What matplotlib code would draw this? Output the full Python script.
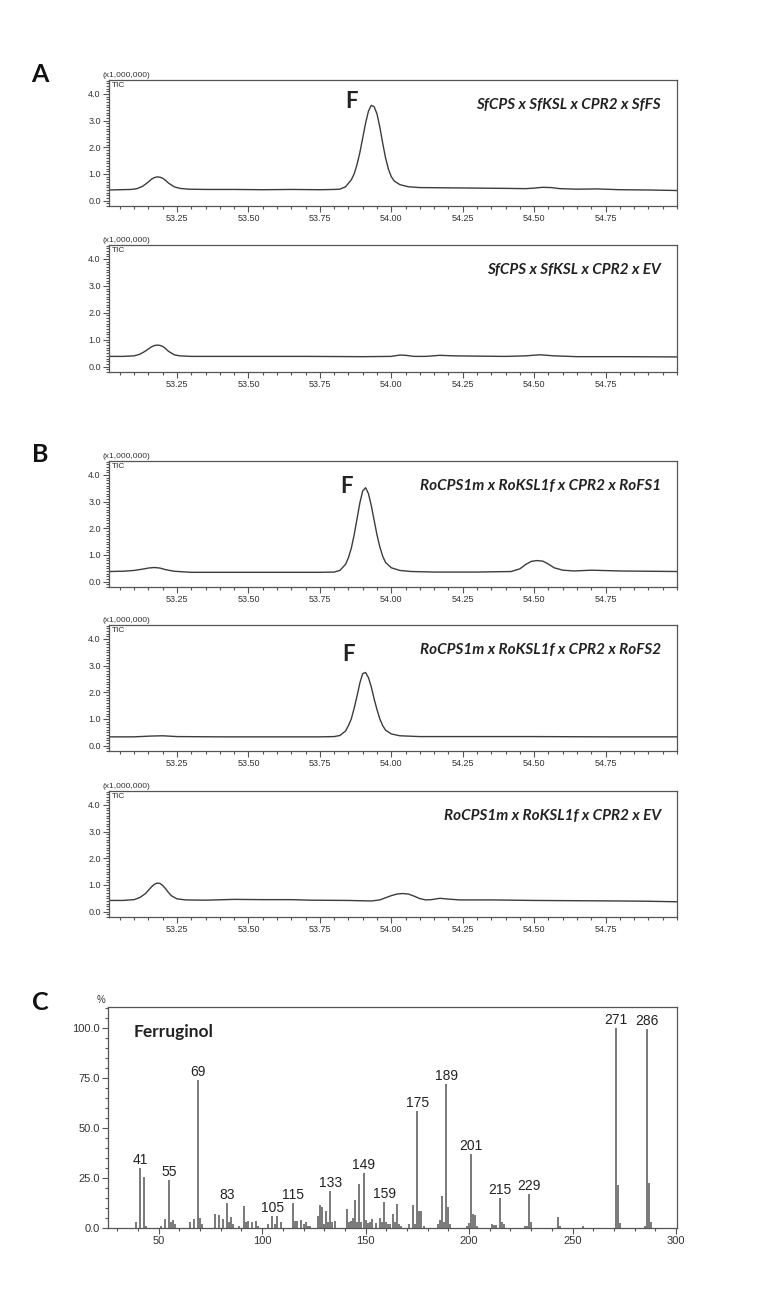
import matplotlib
matplotlib.use("Agg")
import matplotlib.pyplot as plt
from matplotlib.ticker import MultipleLocator

# ---------------- data ----------------
construct_labels = [
    "SfCPS x SfKSL x CPR2 x SfFS",
    "SfCPS x SfKSL x CPR2 x EV",
    "RoCPS1m x RoKSL1f x CPR2 x RoFS1",
    "RoCPS1m x RoKSL1f x CPR2 x RoFS2",
    "RoCPS1m x RoKSL1f x CPR2 x EV",
]

a1_time = [53.01, 53.05, 53.09, 53.11, 53.13, 53.15, 53.16, 53.17, 53.18, 53.19, 53.20, 53.21,
           53.22, 53.24, 53.26, 53.29, 53.35, 53.45, 53.55, 53.65, 53.75, 53.80, 53.82, 53.84,
           53.86, 53.87, 53.88, 53.89, 53.90, 53.91, 53.92, 53.93, 53.94, 53.95, 53.96, 53.97,
           53.98, 53.99, 54.00, 54.01, 54.03, 54.06, 54.10, 54.20, 54.30, 54.40, 54.47, 54.50,
           54.53, 54.56, 54.59, 54.65, 54.72, 54.80, 54.90, 55.00]
a1_tic = [0.40, 0.41, 0.42, 0.45, 0.54, 0.70, 0.80, 0.86, 0.89, 0.88, 0.84, 0.76,
          0.66, 0.52, 0.46, 0.43, 0.42, 0.42, 0.41, 0.42, 0.41, 0.42, 0.43, 0.52,
          0.78, 1.00, 1.35, 1.80, 2.35, 2.90, 3.35, 3.57, 3.52, 3.25, 2.75, 2.15,
          1.60, 1.18, 0.90, 0.74, 0.60, 0.52, 0.49, 0.48, 0.47, 0.46, 0.45, 0.47,
          0.50, 0.49, 0.45, 0.43, 0.44, 0.41, 0.40, 0.38]

a2_time = [53.01, 53.06, 53.10, 53.12, 53.14, 53.15, 53.16, 53.17, 53.18, 53.19, 53.20,
           53.21, 53.22, 53.24, 53.26, 53.30, 53.50, 53.70, 53.90, 54.00, 54.03, 54.05,
           54.08, 54.12, 54.17, 54.22, 54.30, 54.40, 54.47, 54.52, 54.57, 54.65, 54.80,
           55.00]
a2_tic = [0.38, 0.38, 0.40, 0.46, 0.58, 0.66, 0.73, 0.78, 0.80, 0.79, 0.75,
          0.67, 0.57, 0.44, 0.40, 0.38, 0.38, 0.38, 0.37, 0.38, 0.43, 0.42,
          0.38, 0.38, 0.42, 0.40, 0.39, 0.38, 0.40, 0.44, 0.40, 0.37, 0.37,
          0.36]

b1_time = [53.01, 53.06, 53.10, 53.13, 53.15, 53.17, 53.19, 53.21, 53.24, 53.30, 53.45,
           53.60, 53.75, 53.80, 53.82, 53.84, 53.85, 53.86, 53.87, 53.88, 53.89, 53.90,
           53.91, 53.92, 53.93, 53.94, 53.95, 53.96, 53.97, 53.98, 54.00, 54.03, 54.07,
           54.15, 54.30, 54.42, 54.45, 54.47, 54.49, 54.51, 54.53, 54.55, 54.57, 54.60,
           54.64, 54.70, 54.80, 54.90, 55.00]
b1_tic = [0.38, 0.39, 0.42, 0.47, 0.51, 0.53, 0.51, 0.45, 0.39, 0.35, 0.35,
          0.35, 0.35, 0.36, 0.42, 0.65, 0.90, 1.25, 1.75, 2.35, 2.95, 3.40,
          3.52, 3.30, 2.85, 2.30, 1.75, 1.30, 0.95, 0.72, 0.52, 0.42, 0.38,
          0.36, 0.36, 0.38, 0.48, 0.64, 0.76, 0.79, 0.77, 0.66, 0.52, 0.43,
          0.40, 0.43, 0.40, 0.39, 0.38]

b2_time = [53.01, 53.10, 53.16, 53.20, 53.25, 53.40, 53.60, 53.75, 53.80, 53.82, 53.84,
           53.85, 53.86, 53.87, 53.88, 53.89, 53.90, 53.91, 53.92, 53.93, 53.94, 53.95,
           53.96, 53.97, 53.98, 54.00, 54.03, 54.10, 54.30, 54.50, 54.75, 55.00]
b2_tic = [0.33, 0.33, 0.36, 0.37, 0.34, 0.33, 0.33, 0.33, 0.34, 0.38, 0.55,
          0.75, 1.00, 1.40, 1.85, 2.35, 2.70, 2.74, 2.55, 2.20, 1.75, 1.35,
          1.00, 0.75, 0.58, 0.44, 0.37, 0.34, 0.34, 0.34, 0.33, 0.33]

b3_time = [53.01, 53.06, 53.10, 53.12, 53.14, 53.15, 53.16, 53.17, 53.18, 53.19, 53.20,
           53.21, 53.22, 53.23, 53.25, 53.28, 53.35, 53.45, 53.55, 53.65, 53.72, 53.85,
           53.93, 53.96, 53.98, 54.00, 54.02, 54.04, 54.06, 54.08, 54.10, 54.12, 54.14,
           54.17, 54.20, 54.24, 54.35, 54.50, 54.65, 54.80, 54.90, 55.00]
b3_tic = [0.42, 0.42, 0.45, 0.53, 0.68, 0.80, 0.92, 1.02, 1.07, 1.06, 0.98,
          0.86, 0.72, 0.60, 0.48, 0.44, 0.43, 0.46, 0.45, 0.45, 0.43, 0.42,
          0.40, 0.44, 0.52, 0.60, 0.66, 0.68, 0.66, 0.58, 0.49, 0.44, 0.45,
          0.50, 0.47, 0.44, 0.44, 0.42, 0.41, 0.40, 0.39, 0.37]

traces = [(a1_time, a1_tic), (a2_time, a2_tic), (b1_time, b1_tic),
          (b2_time, b2_tic), (b3_time, b3_tic)]
f_label_pos = [(53.86, 3.72), None, (53.845, 3.58), (53.85, 3.42), None]

chrom_yticks = [0.0, 1.0, 2.0, 3.0, 4.0]
chrom_xticks = [53.25, 53.50, 53.75, 54.00, 54.25, 54.50, 54.75]

ms_mz = [39, 41, 43, 44, 51, 53, 55, 56, 57, 58, 65, 67, 69, 70, 71, 77, 79, 81, 83, 84,
         85, 86, 89, 91, 92, 93, 95, 97, 98, 103, 105, 106, 107, 109, 115, 116, 117, 119,
         120, 121, 122, 123, 127, 128, 129, 130, 131, 132, 133, 134, 135, 141, 142, 143,
         144, 145, 146, 147, 148, 149, 150, 151, 152, 153, 155, 157, 158, 159, 160, 161,
         162, 163, 164, 165, 166, 167, 171, 173, 174, 175, 176, 177, 178, 185, 186, 187,
         188, 189, 190, 191, 199, 200, 201, 202, 203, 204, 211, 212, 213, 215, 216, 217,
         227, 228, 229, 230, 243, 244, 255, 271, 272, 273, 285, 286, 287, 288]
ms_int = [3, 30, 25.5, 1, 1, 4.5, 24, 3, 4, 2, 3, 4.5, 74, 5, 2, 7, 6.7, 4.5, 12.5, 3,
          5.5, 2, 1, 11, 3, 3.5, 3, 3.5, 1, 2, 6, 2, 6, 3, 12.5, 3.5, 3.5, 4,
          2, 3, 1, 1, 6, 11.5, 10.5, 2, 8.5, 3, 18.5, 3, 3.5, 9.5, 3, 3.5,
          5, 14, 3, 22, 3, 27.5, 4, 2.5, 3, 4.5, 2.5, 5, 3, 13, 3, 2,
          2, 7, 3, 12, 2, 1, 2, 11.5, 2, 58.5, 8.7, 8.5, 1, 2, 4, 16,
          3, 72, 10.5, 2, 1, 2.5, 37, 7, 6.5, 1, 2, 1.5, 1.5, 15, 3, 2,
          1, 1, 17, 3, 5.5, 1, 1, 100, 21.5, 2.5, 1, 99.5, 22.5, 3]
ms_labeled = [41, 55, 69, 83, 105, 115, 133, 149, 159, 175, 189, 201, 215, 229, 271, 286]
ms_yticks = [0.0, 25.0, 50.0, 75.0, 100.0]
ms_xticks = [50, 100, 150, 200, 250, 300]

# ---------------- layout ----------------
W, H = 773, 1294
fig = plt.figure(figsize=(W / 100, H / 100), dpi=100)
fig.patch.set_facecolor("white")

calibri = ["Lato", "DejaVu Sans"]
arial = ["Liberation Sans", "DejaVu Sans"]
line_col = "#3c3c3c"
txt_col = "#333333"

ax_left, ax_right = 109, 677
chrom_boxes = [(80, 206), (245, 372), (461, 587), (625, 751), (791, 917)]


def rect(left, top, right, bottom):
    return [left / W, 1 - bottom / H, (right - left) / W, (bottom - top) / H]


def style_axes(ax, lsize):
    for s in ax.spines.values():
        s.set_color("#555555")
        s.set_linewidth(0.9)
    ax.tick_params(which="both", direction="out", colors="#555555",
                   labelcolor=txt_col, labelsize=lsize, width=0.8)
    ax.tick_params(which="major", length=4, pad=2)
    ax.tick_params(which="minor", length=2.5)
    for lab in ax.get_xticklabels() + ax.get_yticklabels():
        lab.set_family(arial)


for i, ((top, bot), (t, y)) in enumerate(zip(chrom_boxes, traces)):
    ax = fig.add_axes(rect(ax_left, top, ax_right, bot))
    ax.plot(t, y, color=line_col, lw=1.0)
    ax.set_xlim(53.012, 55.0)
    ax.set_ylim(-0.2, 4.52)
    ax.set_xticks(chrom_xticks)
    ax.set_xticklabels([f"{v:.2f}" for v in chrom_xticks])
    ax.xaxis.set_minor_locator(MultipleLocator(0.05))
    ax.set_yticks(chrom_yticks)
    ax.set_yticklabels([f"{v:.1f}" for v in chrom_yticks])
    ax.yaxis.set_minor_locator(MultipleLocator(0.1))
    style_axes(ax, 6.5)
    ax.text(0.972, 0.80, construct_labels[i], transform=ax.transAxes, ha="right",
            va="center", fontsize=11, fontweight="bold", fontstyle="italic",
            family=calibri, color="#222222")
    ax.text(-0.012, 1.01, "(x1,000,000)", transform=ax.transAxes, ha="left",
            va="bottom", fontsize=6, family=arial, color=txt_col)
    ax.text(0.005, 0.985, "TIC", transform=ax.transAxes, ha="left", va="top",
            fontsize=6, family=arial, color=txt_col)
    if f_label_pos[i] is not None:
        fx, fy = f_label_pos[i]
        ax.text(fx, fy, "F", ha="center", va="center", fontsize=16,
                fontweight="bold", family=calibri, color="#222222")

# mass spectrum
axc = fig.add_axes(rect(108, 1007, 677, 1228))
axc.vlines(ms_mz, 0, ms_int, color="#555555", lw=1.1)
axc.set_xlim(25.5, 300.5)
axc.set_ylim(0, 110.6)
axc.set_xticks(ms_xticks)
axc.xaxis.set_minor_locator(MultipleLocator(10))
axc.set_yticks(ms_yticks)
axc.set_yticklabels([f"{v:.1f}" for v in ms_yticks])
axc.yaxis.set_minor_locator(MultipleLocator(5))
style_axes(axc, 8)
for mz, it in zip(ms_mz, ms_int):
    if mz in ms_labeled:
        axc.text(mz, it + 0.5, str(mz), ha="center", va="bottom", fontsize=10,
                 family=arial, color="#222222")
axc.text(0.045, 0.885, "Ferruginol", transform=axc.transAxes, ha="left",
         va="center", fontsize=12.5, fontweight="bold", family=calibri,
         color="#222222")
axc.text(-0.012, 1.01, "%", transform=axc.transAxes, ha="center", va="bottom",
         fontsize=7, family=arial, color=txt_col)

# panel letters
for letter, ypx in [("A", 75), ("B", 455), ("C", 1003)]:
    fig.text(40 / W, 1 - ypx / H, letter, ha="center", va="center", fontsize=18,
             fontweight="bold", family=calibri, color="#111111")

fig.savefig("out.png", dpi=100, facecolor="white")
